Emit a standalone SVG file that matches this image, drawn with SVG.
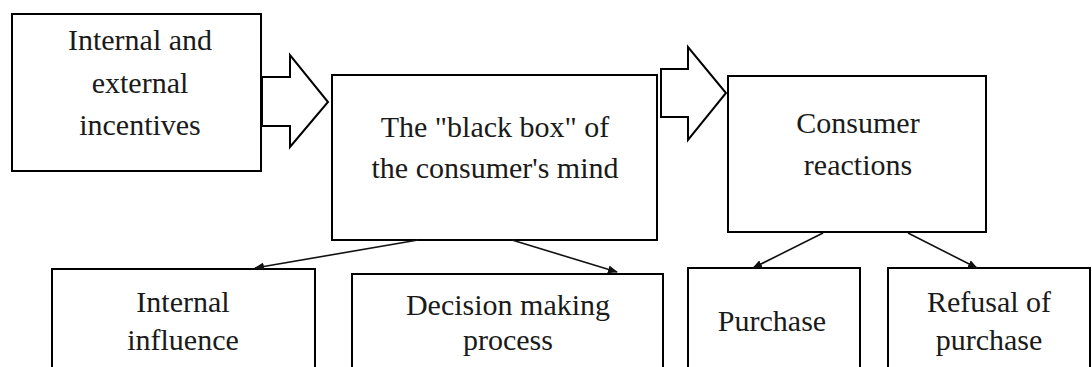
<svg xmlns="http://www.w3.org/2000/svg" width="1092" height="367" viewBox="0 0 1092 367">
  <defs>
    <style>
      .box { fill: #ffffff; stroke: #000000; stroke-width: 2; }
      .big { fill: #ffffff; stroke: #000000; stroke-width: 2; stroke-linejoin: miter; }
      .lbl { font-family: "Liberation Serif", "Times New Roman", serif; font-size: 30px; fill: #1a1a1a; text-anchor: middle; }
      .link { stroke: #111111; stroke-width: 1.6; fill: none; marker-end: url(#head); }
    </style>
    <marker id="head" viewBox="0 0 10 8" refX="9" refY="4" markerWidth="10" markerHeight="8" markerUnits="userSpaceOnUse" orient="auto">
      <path d="M0,0 L10,4 L0,8 Z" fill="#111111"/>
    </marker>
  </defs>
  <rect width="1092" height="367" fill="#ffffff"/>

  <!-- block arrows between the top boxes -->
  <g id="flow-arrows">
    <polygon class="big" points="262,77 290,77 290,55 328,102 290,147 290,126 262,126"/>
    <polygon class="big" points="661,69 688,69 688,47 726,93 688,140 688,117 661,117"/>
  </g>

  <g id="incentives">
    <rect class="box" x="12" y="14" width="249" height="157"/>
    <text class="lbl" x="140" y="50">Internal and</text>
    <text class="lbl" x="140" y="93">external</text>
    <text class="lbl" x="140" y="135">incentives</text>
  </g>

  <g id="black-box">
    <rect class="box" x="332" y="75" width="325" height="165"/>
    <text class="lbl" x="495" y="137">The "black box" of</text>
    <text class="lbl" x="495" y="178">the consumer's mind</text>
  </g>

  <g id="reactions">
    <rect class="box" x="728" y="76" width="258" height="156"/>
    <text class="lbl" x="858" y="133">Consumer</text>
    <text class="lbl" x="858" y="175">reactions</text>
  </g>

  <g id="internal-influence">
    <rect class="box" x="52" y="269" width="263" height="120"/>
    <text class="lbl" x="183" y="312">Internal</text>
    <text class="lbl" x="183" y="350">influence</text>
  </g>

  <g id="decision">
    <rect class="box" x="352" y="274" width="311" height="120"/>
    <text class="lbl" x="508" y="315">Decision making</text>
    <text class="lbl" x="508" y="350">process</text>
  </g>

  <g id="purchase">
    <rect class="box" x="688" y="268" width="172" height="120"/>
    <text class="lbl" x="772" y="331">Purchase</text>
  </g>

  <g id="refusal">
    <rect class="box" x="888" y="268" width="202" height="120"/>
    <text class="lbl" x="989" y="312">Refusal of</text>
    <text class="lbl" x="989" y="350">purchase</text>
  </g>

  <!-- connectors -->
  <g id="connectors">
    <line class="link" x1="418" y1="240" x2="255" y2="268"/>
    <line class="link" x1="512" y1="240" x2="617" y2="272"/>
    <line class="link" x1="823" y1="233" x2="753" y2="268"/>
    <line class="link" x1="908" y1="233" x2="977" y2="268"/>
  </g>
</svg>
